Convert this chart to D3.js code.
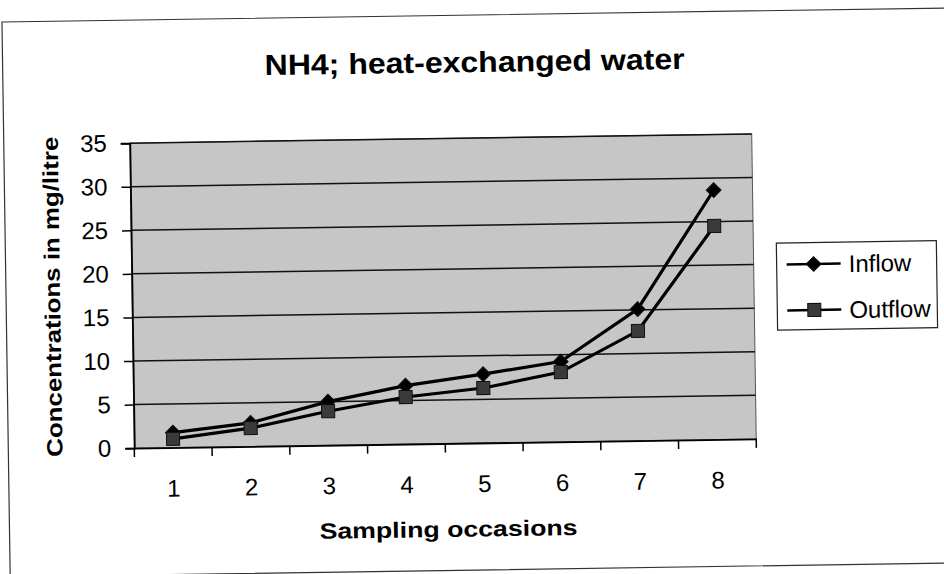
<!DOCTYPE html>
<html>
<head>
<meta charset="utf-8">
<script src="https://cdn.jsdelivr.net/npm/d3@7"></script>
<style>
  html, body { margin: 0; padding: 0; background: #fff; }
  svg { display: block; }
  text { font-family: "Liberation Sans", Arial, sans-serif; fill: #000; }
</style>
</head>
<body>
<svg id="chart" width="944" height="574"></svg>
<script>
// ---- data ----
const categories = ["1", "2", "3", "4", "5", "6", "7", "8"];
const inflow  = [1.7, 2.7, 5.0, 6.7, 7.9, 9.2, 15.1, 28.6];
const outflow = [1.0, 2.1, 3.9, 5.4, 6.3, 8.0, 12.6, 24.5];
const yTicks = [0, 5, 10, 15, 20, 25, 30, 35];
const seriesNames = ["Inflow", "Outflow"];
const titleText = "NH4; heat-exchanged water";
const xTitle = "Sampling occasions";
const yTitle = "Concentrations in mg/litre";

// ---- layout ----
const plot = { left: 132, right: 754, top: 138.5, bottom: 443.5 };
const svg = d3.select("#chart");
// the scanned original is slightly tilted
const root = svg.append("g").attr("transform", "rotate(-0.85, 443, 291)");

// outer chart frame
root.append("rect")
  .attr("x", 6).attr("y", 15.5).attr("width", 963).attr("height", 555)
  .attr("fill", "none").attr("stroke", "#333").attr("stroke-width", 1.2);

const x = d3.scaleBand().domain(categories).range([plot.left, plot.right]).padding(0);
const y = d3.scaleLinear().domain([0, 35]).range([plot.bottom, plot.top]);

// plot area
root.append("rect")
  .attr("x", plot.left).attr("y", plot.top)
  .attr("width", plot.right - plot.left).attr("height", plot.bottom - plot.top)
  .attr("fill", "#c6c6c6").attr("stroke", "#555").attr("stroke-width", 1);

// gridlines
root.append("g").selectAll("line").data(yTicks.filter(d => d > 0)).join("line")
  .attr("x1", plot.left).attr("x2", plot.right)
  .attr("y1", d => y(d)).attr("y2", d => y(d))
  .attr("stroke", "#111").attr("stroke-width", 1.5);

// y axis
const yAxis = root.append("g").attr("transform", `translate(${plot.left},0)`)
  .call(d3.axisLeft(y).tickValues(yTicks).tickSize(9).tickPadding(14));
yAxis.select(".domain").attr("stroke", "#000").attr("stroke-width", 1.8);
yAxis.selectAll(".tick line").attr("stroke", "#000").attr("stroke-width", 1.5);
yAxis.selectAll(".tick text").attr("font-size", 24)
  .style("font-family", '"Liberation Sans", Arial, sans-serif');

// x axis
const xAxis = root.append("g").attr("transform", `translate(0,${plot.bottom})`)
  .call(d3.axisBottom(x).tickSize(0).tickPadding(32));
xAxis.select(".domain").attr("stroke", "#000").attr("stroke-width", 1.8);
xAxis.selectAll(".tick text").attr("font-size", 24)
  .style("font-family", '"Liberation Sans", Arial, sans-serif');
const bounds = categories.map(c => x(c)).concat([x(categories[categories.length - 1]) + x.bandwidth()]);
root.append("g").selectAll("line").data(bounds).join("line")
  .attr("x1", d => d).attr("x2", d => d)
  .attr("y1", plot.bottom).attr("y2", plot.bottom + 9)
  .attr("stroke", "#000").attr("stroke-width", 1.5);

// series
const cx = (d, i) => x(categories[i]) + x.bandwidth() / 2;
const line = d3.line().x((d, i) => cx(d, i)).y(d => y(d));
const diamond = d3.symbol().type(d3.symbolSquare).size(110);
const square = d3.symbol().type(d3.symbolSquare).size(170);

function drawSeries(values, kind) {
  const g = root.append("g");
  g.append("path").datum(values).attr("d", line)
    .attr("fill", "none").attr("stroke", "#000").attr("stroke-width", 3.2);
  g.selectAll("path.m").data(values).join("path").attr("class", "m")
    .attr("d", kind === "diamond" ? diamond : square)
    .attr("transform", (d, i) => `translate(${cx(d, i)},${y(d)})` + (kind === "diamond" ? " rotate(45)" : ""))
    .attr("fill", kind === "diamond" ? "#000" : "#3a3a3a")
    .attr("stroke", "#111").attr("stroke-width", 1);
}
drawSeries(inflow, "diamond");
drawSeries(outflow, "square");

// title
root.append("text").attr("x", 478).attr("y", 72.5).attr("text-anchor", "middle")
  .attr("font-size", 29).attr("font-weight", "bold")
  .attr("textLength", 420).attr("lengthAdjust", "spacingAndGlyphs")
  .text(titleText);

// axis titles
root.append("text").attr("x", 445).attr("y", 537).attr("text-anchor", "middle")
  .attr("font-size", 22).attr("font-weight", "bold")
  .attr("textLength", 258).attr("lengthAdjust", "spacingAndGlyphs")
  .text(xTitle);
root.append("text").attr("transform", "translate(60,291) rotate(-90)")
  .attr("text-anchor", "middle")
  .attr("font-size", 22).attr("font-weight", "bold")
  .attr("textLength", 320).attr("lengthAdjust", "spacingAndGlyphs")
  .text(yTitle);

// legend
const leg = root.append("g");
leg.append("rect").attr("x", 777).attr("y", 248).attr("width", 160).attr("height", 87)
  .attr("fill", "#fff").attr("stroke", "#222").attr("stroke-width", 1.2);
const legRows = [269.5, 315.5];
seriesNames.forEach((name, i) => {
  const ly = legRows[i];
  leg.append("line").attr("x1", 787).attr("x2", 841).attr("y1", ly).attr("y2", ly)
    .attr("stroke", "#000").attr("stroke-width", 2.5);
  leg.append("path")
    .attr("d", i === 0 ? diamond : square)
    .attr("transform", `translate(814,${ly})` + (i === 0 ? " rotate(45)" : ""))
    .attr("fill", i === 0 ? "#000" : "#3a3a3a").attr("stroke", "#111").attr("stroke-width", 1);
  leg.append("text").attr("x", 849).attr("y", ly + 8.5).attr("font-size", 24).text(name);
});
</script>
</body>
</html>
